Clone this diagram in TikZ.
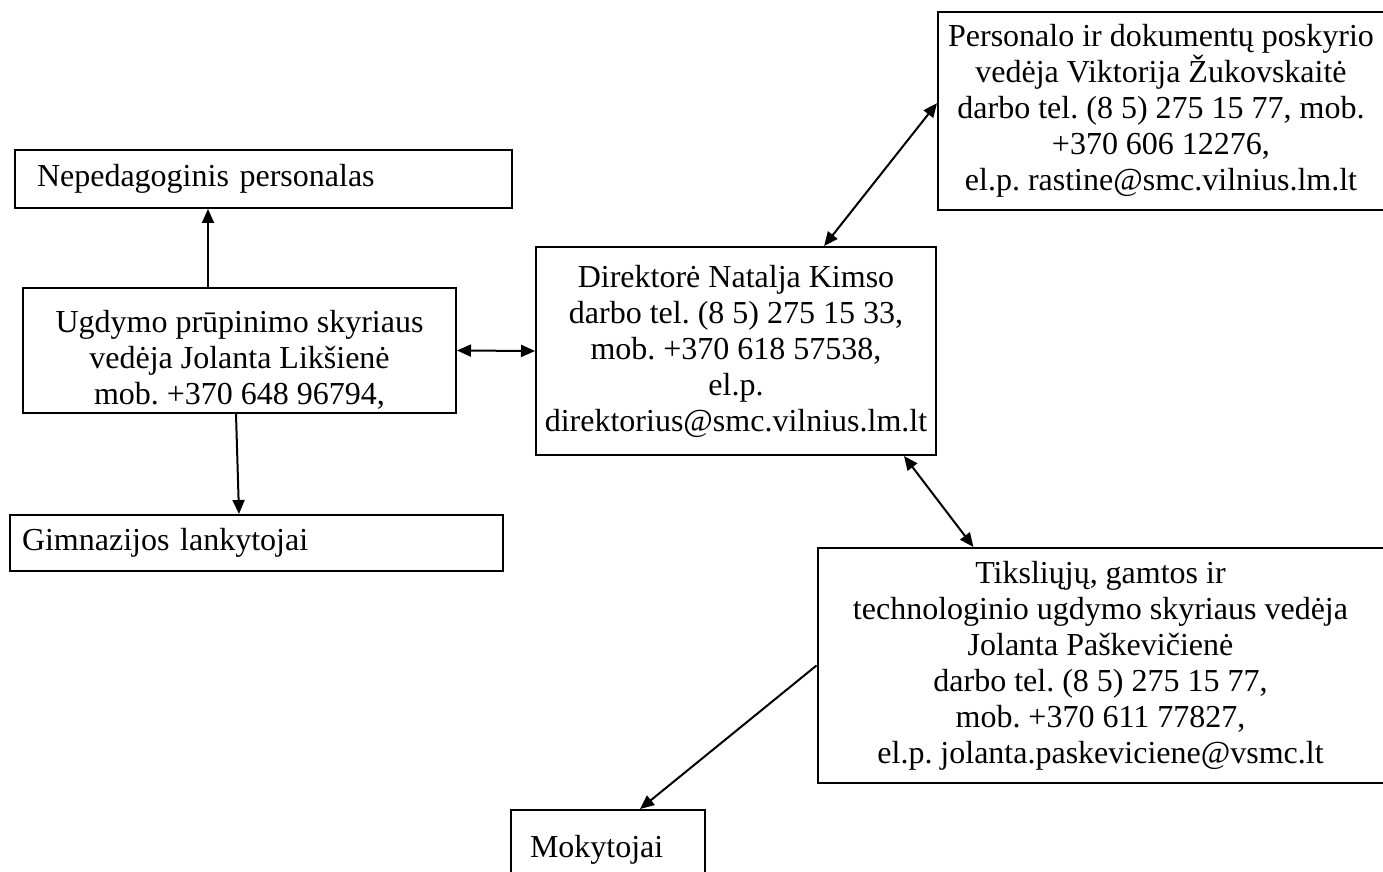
\documentclass[tikz,border=0pt]{standalone}
\usepackage{fontspec}
\setmainfont{Liberation Serif}
\usetikzlibrary{arrows.meta,calc}
\tikzset{>={Triangle[length=7pt,width=6pt]}}
\frenchspacing

\begin{document}
\begin{tikzpicture}[x=0.5pt,y=-0.5pt]
  \tikzset{
    obox/.style={rectangle, draw=black, line width=1pt, inner sep=0pt,
      align=center, font=\fontsize{16}{18}\selectfont},
    lbox/.style={obox, align=left, inner ysep=0pt},
    link/.style={line width=1pt}
  }
  \useasboundingbox (0,0) rectangle (1383,872);

  \node[lbox, text width=226.5pt, inner xsep=11pt, minimum height=29pt] (nep) at (263.5,179) {Nepedagoginis personalas};
  \node[obox, minimum width=216.5pt, minimum height=62.5pt] (ugd) at (239.5,350.5)
    {\rule{0pt}{20pt}Ugdymo prūpinimo skyriaus\\ vedėja Jolanta Likšienė\\ mob. +370 648 96794,};
  \node[lbox, text width=234.5pt, inner xsep=6pt, minimum height=28pt] (gimn) at (256.5,543) {Gimnazijos lankytojai};
  \node[obox, minimum width=200pt, minimum height=104pt] (dir) at (736,351)
    {Direktorė Natalja Kimso\\ darbo tel. (8 5) 275 15 33,\\ mob. +370 618 57538,\\ el.p.\\ direktorius@smc.vilnius.lm.lt};
  \node[obox, minimum width=223pt, minimum height=99pt] (pers) at (1161,111)
    {Personalo ir dokumentų poskyrio\\ vedėja Viktorija Žukovskaitė\\ darbo tel. (8 5) 275 15 77, mob.\\ +370 606 12276,\\ el.p. rastine@smc.vilnius.lm.lt};
  \node[obox, minimum width=283pt, minimum height=117.5pt] (tiks) at (1100.5,665.5)
    {Tiksliųjų, gamtos ir\\ technologinio ugdymo skyriaus vedėja\\ Jolanta Paškevičienė\\ darbo tel. (8 5) 275 15 77,\\ mob. +370 611 77827,\\ el.p. jolanta.paskeviciene@vsmc.lt};
  \node[lbox, text width=78pt, inner xsep=9.5pt, minimum height=40pt] (moky) at (608,850) {Mokytojai\\[8pt]};

  % one-way links
  \draw[link,->] ([xshift=-15.75pt]ugd.north) -- ([xshift=-15.75pt]ugd.north |- nep.south);
  \draw[link,->] ([xshift=-1.75pt]ugd.south) -- ([xshift=-8.75pt]gimn.north);
  \draw[link,->] (tiks.west) -- (moky.52);

  % two-way links
  \foreach \a/\b in {ugd.east/dir.west, dir.50/pers.178, dir.-32/tiks.137.5}{
    \draw[link,<->] (\a) -- (\b);
  }
\end{tikzpicture}
\end{document}
